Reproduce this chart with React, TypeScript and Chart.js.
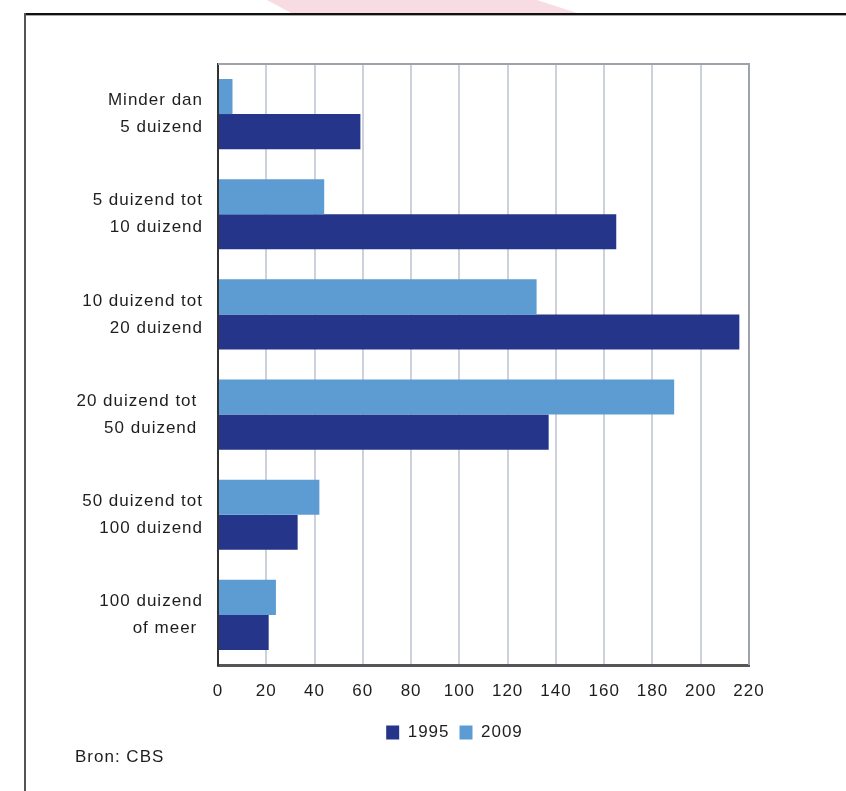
import React, { useEffect, useRef } from "react";
import { Chart, registerables } from "chart.js";

Chart.register(...registerables);

// Gemeenten naar inwonertal (aantal gemeenten)
const categories: (string | string[])[] = [
  ["Minder dan", "5 duizend"],
  ["5 duizend tot", "10 duizend"],
  ["10 duizend tot", "20 duizend"],
  ["20 duizend tot ", "50 duizend "],
  ["50 duizend tot", "100 duizend"],
  ["100 duizend", "of meer "],
];

const values1995 = [59, 165, 216, 137, 33, 21];
const values2009 = [6, 44, 132, 189, 42, 24];

const xMin = 0;
const xMax = 220;
const xStep = 20;

const DARK = "#25368a";
const LIGHT = "#5d9cd3";
const FONT = "'Liberation Sans', Arial, sans-serif";
const TEXT = "#1e1e1e";

// Slightly widened lettering for all canvas text
const letterSpacingPlugin = {
  id: "letterSpacing",
  beforeLayout(chart: any) {
    chart.ctx.letterSpacing = "1px";
  },
  beforeDraw(chart: any) {
    chart.ctx.letterSpacing = "1px";
  },
};

// Legend sits centred under the whole figure rather than under its layout box
const legendShiftPlugin = {
  id: "legendShift",
  afterLayout(chart: any) {
    const legend = chart.legend;
    if (!legend) return;
    const dx = 80;
    legend.left += dx;
    legend.right += dx;
  },
};

// Grey top and right edge of the plot area
const plotFramePlugin = {
  id: "plotFrame",
  beforeDatasetsDraw(chart: any) {
    const { ctx, chartArea } = chart;
    ctx.save();
    ctx.strokeStyle = "#9ea2ab";
    ctx.lineWidth = 2;
    ctx.beginPath();
    ctx.moveTo(chartArea.left, chartArea.top);
    ctx.lineTo(chartArea.right, chartArea.top);
    ctx.lineTo(chartArea.right, chartArea.bottom);
    ctx.stroke();
    ctx.restore();
  },
};

export default function App() {
  const canvasRef = useRef<HTMLCanvasElement | null>(null);

  useEffect(() => {
    if (!canvasRef.current) return;
    const chart = new Chart(canvasRef.current, {
      type: "bar",
      data: {
        labels: categories,
        datasets: [
          {
            label: "2009",
            data: values2009,
            backgroundColor: LIGHT,
            categoryPercentage: 0.7,
            barPercentage: 1,
          },
          {
            label: "1995",
            data: values1995,
            backgroundColor: DARK,
            categoryPercentage: 0.7,
            barPercentage: 1,
          },
        ],
      },
      options: {
        indexAxis: "y",
        responsive: false,
        animation: false,
        layout: { padding: { left: 0, right: 97, top: 64, bottom: 40 } },
        scales: {
          x: {
            type: "linear",
            min: xMin,
            max: xMax,
            ticks: {
              stepSize: xStep,
              padding: 16,
              color: TEXT,
              font: { family: FONT, size: 17 },
            },
            grid: { color: "#cdd1dc", lineWidth: 2, drawTicks: false },
            border: { display: true, color: "#555555", width: 3 },
            afterFit(scale: any) {
              scale.height = 49;
            },
          },
          y: {
            type: "category",
            ticks: {
              padding: 15,
              color: TEXT,
              font: { family: FONT, size: 17, lineHeight: 1.59 },
            },
            grid: { display: false, drawTicks: false },
            border: { display: true, color: "#333333", width: 2 },
            afterFit(scale: any) {
              scale.width = 218;
            },
          },
        },
        plugins: {
          legend: {
            position: "bottom",
            reverse: true,
            labels: {
              boxWidth: 13,
              boxHeight: 14,
              padding: 10,
              color: TEXT,
              font: { family: FONT, size: 17 },
            },
          },
          tooltip: { enabled: false },
        },
      },
      plugins: [letterSpacingPlugin, legendShiftPlugin, plotFramePlugin],
    });
    return () => chart.destroy();
  }, []);

  return (
    <div
      style={{
        position: "absolute",
        left: 0,
        top: 0,
        width: 846,
        height: 791,
        background: "#ffffff",
        overflow: "hidden",
      }}
    >
      <div
        style={{
          position: "absolute",
          left: 0,
          top: 0,
          width: 846,
          height: 14,
          background: "#f7dce4",
          clipPath: "polygon(267px 0, 537px 0, 580px 14px, 293px 14px)",
        }}
      />
      <div
        style={{
          position: "absolute",
          left: 24,
          top: 13,
          right: 0,
          height: 2,
          background: "#111111",
          borderBottom: "1px solid #a8a8a8",
        }}
      />
      <div
        style={{
          position: "absolute",
          left: 24,
          top: 13,
          width: 2,
          bottom: 0,
          background: "#555555",
        }}
      />
      <canvas
        ref={canvasRef}
        width={846}
        height={791}
        style={{ position: "absolute", left: 0, top: 0, width: 846, height: 791 }}
      />
      <div
        style={{
          position: "absolute",
          left: 75,
          top: 747,
          fontFamily: FONT,
          fontSize: 17,
          letterSpacing: "1px",
          color: TEXT,
          whiteSpace: "nowrap",
        }}
      >
        Bron: CBS
      </div>
    </div>
  );
}
